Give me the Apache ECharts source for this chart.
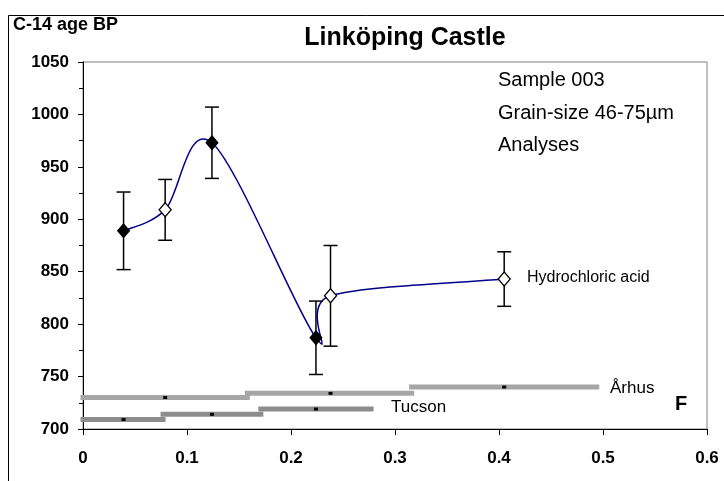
<!DOCTYPE html>
<html>
<head>
<meta charset="utf-8">
<title>Linköping Castle</title>
<script src="https://cdn.jsdelivr.net/npm/echarts@6/dist/echarts.min.js"></script>
<style>
  html, body { margin: 0; padding: 0; background: #fff; }
  #chart { width: 724px; height: 481px; }
</style>
</head>
<body>
<div id="chart"></div>
<script>
// Sample 003 analyses: fraction F against C-14 age (BP)
var fractionF   = [0.039, 0.079, 0.124, 0.224, 0.238, 0.405];
var ageBP       = [889, 909, 973, 787, 827, 843];
var ageError    = [37, 29, 34, 35, 48, 26];
var solidMarker = [true, false, true, true, false, false];

// Reference age steps from the two laboratories
var aarhusCenter = [0.079, 0.238, 0.405];
var aarhusAge    = [730, 734, 740];
var aarhusFrom   = [0, 0.158, 0.316];
var aarhusTo     = [0.158, 0.316, 0.494];

var tucsonCenter = [0.039, 0.124, 0.224];
var tucsonAge    = [709, 714, 719];
var tucsonFrom   = [0, 0.077, 0.171];
var tucsonTo     = [0.077, 0.171, 0.277];

var xTicks = [0, 0.6, 0.1];     // min, max, interval
var yTicks = [700, 1050, 50];

var FONT = '"Liberation Sans", Arial, sans-serif';

var chart = echarts.init(document.getElementById('chart'), null, { renderer: 'canvas' });

function stepItem(color) {
  return function (params, api) {
    var y = api.value(1);
    var a = api.coord([api.value(2), y]);
    var b = api.coord([api.value(3), y]);
    var c = api.coord([api.value(0), y]);
    return {
      type: 'group',
      children: [
        { type: 'line', shape: { x1: a[0], y1: a[1], x2: b[0], y2: b[1] },
          style: { stroke: color, lineWidth: 5, lineCap: 'square' } },
        { type: 'rect', shape: { x: c[0] - 2, y: c[1] - 1.5, width: 4, height: 3 },
          style: { fill: '#000' } }
      ]
    };
  };
}

// Four neighbouring points around segment i (ends repeated)
function catmull(i) {
  var n = fractionF.length;
  var k = function (j) {
    j = Math.max(0, Math.min(n - 1, j));
    return [fractionF[j], ageBP[j]];
  };
  return [k(i - 1), k(i), k(i + 1), k(i + 2)];
}

var stepAarhus = aarhusCenter.map(function (c, i) { return [c, aarhusAge[i], aarhusFrom[i], aarhusTo[i]]; });
var stepTucson = tucsonCenter.map(function (c, i) { return [c, tucsonAge[i], tucsonFrom[i], tucsonTo[i]]; });
var errData = fractionF.map(function (x, i) { return [x, ageBP[i] - ageError[i], ageBP[i] + ageError[i]]; });
var curveData = fractionF.slice(0, -1).map(function (x, i) { return [x, ageBP[i]]; });
var solidPts = [], openPts = [];
fractionF.forEach(function (x, i) {
  (solidMarker[i] ? solidPts : openPts).push([x, ageBP[i]]);
});

var option = {
  animation: false,
  backgroundColor: '#fff',
  grid: { left: 83, right: 17, top: 62, bottom: 52, show: true, borderColor: '#808080', borderWidth: 1 },
  xAxis: {
    type: 'value', min: xTicks[0], max: xTicks[1], interval: xTicks[2],
    axisLine: { lineStyle: { color: '#000', width: 1 } },
    axisTick: { show: true, length: 6, lineStyle: { color: '#000' } },
    splitLine: { show: false },
    axisLabel: { color: '#000', fontFamily: FONT, fontWeight: 'bold', fontSize: 17, margin: 21,
      formatter: function (v) { return String(v); } }
  },
  yAxis: {
    type: 'value', min: yTicks[0], max: yTicks[1], interval: yTicks[2],
    axisLine: { show: true, lineStyle: { color: '#000', width: 1 } },
    axisTick: { show: true, length: 5, lineStyle: { color: '#000' } },
    minorTick: { show: true, splitNumber: 2, length: 4, lineStyle: { color: '#000' } },
    splitLine: { show: false },
    axisLabel: { color: '#000', fontFamily: FONT, fontWeight: 'bold', fontSize: 17, margin: 14,
      formatter: function (v) { return String(v); } }
  },
  series: [
    { type: 'custom', name: 'Århus', data: stepAarhus, renderItem: stepItem('#a6a6a6'), clip: false, z: 2 },
    { type: 'custom', name: 'Tucson', data: stepTucson, renderItem: stepItem('#8c8c8c'), clip: false, z: 2 },
    {
      type: 'custom', name: 'curve', data: curveData, z: 3, clip: false,
      renderItem: function (params, api) {
        var p = catmull(params.dataIndex).map(function (v) { return api.coord(v); });
        return {
          type: 'bezierCurve',
          shape: {
            x1: p[1][0], y1: p[1][1], x2: p[2][0], y2: p[2][1],
            cpx1: p[1][0] + (p[2][0] - p[0][0]) / 6, cpy1: p[1][1] + (p[2][1] - p[0][1]) / 6,
            cpx2: p[2][0] - (p[3][0] - p[1][0]) / 6, cpy2: p[2][1] - (p[3][1] - p[1][1]) / 6
          },
          style: { stroke: '#00008b', lineWidth: 1.5, fill: null }
        };
      }
    },
    {
      type: 'custom', name: 'error', data: errData, z: 4, clip: false,
      renderItem: function (params, api) {
        var lo = api.coord([api.value(0), api.value(1)]);
        var hi = api.coord([api.value(0), api.value(2)]);
        var w = 7;
        var st = { stroke: '#000', lineWidth: 1.5 };
        return {
          type: 'group',
          children: [
            { type: 'line', shape: { x1: lo[0], y1: lo[1], x2: hi[0], y2: hi[1] }, style: st },
            { type: 'line', shape: { x1: lo[0] - w, y1: lo[1], x2: lo[0] + w, y2: lo[1] }, style: st },
            { type: 'line', shape: { x1: hi[0] - w, y1: hi[1], x2: hi[0] + w, y2: hi[1] }, style: st }
          ]
        };
      }
    },
    {
      type: 'scatter', name: 'solid', data: solidPts, symbol: 'diamond', symbolSize: [12, 14], z: 5,
      itemStyle: { color: '#000', borderColor: '#000', borderWidth: 1, opacity: 1 }
    },
    {
      type: 'scatter', name: 'open', data: openPts, symbol: 'diamond', symbolSize: [12, 14], z: 5,
      itemStyle: { color: '#fff', borderColor: '#000', borderWidth: 1.3, opacity: 1 }
    }
  ],
  graphic: [
    { type: 'rect', shape: { x: 8.5, y: 15.5, width: 800, height: 600 },
      style: { fill: null, stroke: '#000', lineWidth: 1 }, silent: true },
    { type: 'text', x: 13, y: 25,
      style: { text: 'C-14 age BP', font: 'bold 18px ' + FONT, fill: '#000', verticalAlign: 'middle' } },
    { type: 'text', x: 405, y: 38,
      style: { text: 'Linköping Castle', font: 'bold 25px ' + FONT, fill: '#000', align: 'center', verticalAlign: 'middle' } },
    { type: 'text', x: 498, y: 80,
      style: { text: 'Sample 003', font: '20px ' + FONT, fill: '#000', verticalAlign: 'middle' } },
    { type: 'text', x: 498, y: 113,
      style: { text: 'Grain-size 46-75µm', font: '20px ' + FONT, fill: '#000', verticalAlign: 'middle' } },
    { type: 'text', x: 498, y: 145,
      style: { text: 'Analyses', font: '20px ' + FONT, fill: '#000', verticalAlign: 'middle' } },
    { type: 'text', x: 527, y: 278,
      style: { text: 'Hydrochloric acid', font: '16px ' + FONT, fill: '#000', verticalAlign: 'middle' } },
    { type: 'text', x: 610, y: 388,
      style: { text: 'Århus', font: '17px ' + FONT, fill: '#000', verticalAlign: 'middle' } },
    { type: 'text', x: 391, y: 407,
      style: { text: 'Tucson', font: '17px ' + FONT, fill: '#000', verticalAlign: 'middle' } },
    { type: 'text', x: 675, y: 404,
      style: { text: 'F', font: 'bold 20px ' + FONT, fill: '#000', verticalAlign: 'middle' } }
  ]
};

chart.setOption(option);
</script>
</body>
</html>
